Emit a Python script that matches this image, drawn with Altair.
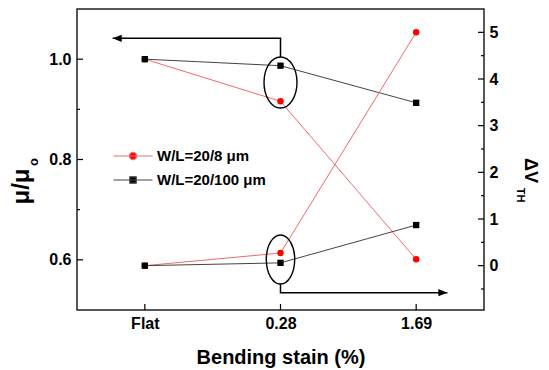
import json
import altair as alt
import pandas as pd

# ---------------- data ----------------
strain_labels = ["Flat", "0.28", "1.69"]
strain_pos = [0, 1, 2]
series_names = ["W/L=20/8 μm", "W/L=20/100 μm"]

mob_8 = [1.0, 0.916, 0.601]      # μ/μo, W/L = 20/8
mob_100 = [1.0, 0.987, 0.913]    # μ/μo, W/L = 20/100
dvth_8 = [0.0, 0.27, 5.0]        # ΔVTH, W/L = 20/8
dvth_100 = [0.0, 0.06, 0.87]     # ΔVTH, W/L = 20/100

mob_major = [0.6, 0.8, 1.0]
mob_minor = [0.7, 0.9]
dv_major = [0, 1, 2, 3, 4, 5]
dv_minor = [-0.5, 0.5, 1.5, 2.5, 3.5, 4.5]

# annotation positions (data units)
ell_top_x, ell_top_y = [1], [0.9535]
ell_bot_x, ell_bot_y = [1], [0.133]
arr_top_x = [1, 1, -0.237]
arr_top_y = [1.0043, 1.0416, 1.0416]
arr_bot_x = [1, 1, 2.23]
arr_bot_y = [-0.392, -0.579, -0.579]

# ---------------- layout / style ----------------
W, H = 407, 301
FONT = "Liberation Sans"
RED_LINE, RED = "#f06a6a", "#ff0000"
BLK_LINE, BLK = "#444444", "#000000"

xscale = alt.Scale(domain=[-0.5, 2.5], nice=False, zero=False)
yl_scale = alt.Scale(domain=[0.5, 1.1], nice=False, zero=False)
yr_scale = alt.Scale(domain=[-0.95, 5.5], nice=False, zero=False)

x_axis = alt.Axis(
    values=strain_pos,
    labelExpr=json.dumps(strain_labels) + "[datum.value]",
    labelPadding=5, labelBaseline="top",
    title="Bending stain (%)", titleFontSize=20,
    titleX=W / 2, titleY=53, titleAlign="center", titleBaseline="alphabetic",
)
yl_axis = alt.Axis(
    orient="left", values=mob_major, format=".1f", labelPadding=6,
    title="μ/μ", titleFontSize=24, titleAngle=270,
    titleX=-49, titleY=177, titleAlign="center", titleBaseline="alphabetic",
)
yr_axis = alt.Axis(
    orient="right", values=dv_major, format="d", labelPadding=5,
    title="ΔV", titleFontSize=18, titleAngle=90,
    titleX=40, titleY=161, titleAlign="center", titleBaseline="alphabetic",
)


def X(f):
    return alt.X(f, type="quantitative", scale=xscale, axis=x_axis)


def YL(f):
    return alt.Y(f, type="quantitative", scale=yl_scale, axis=yl_axis)


def YR(f):
    return alt.Y(f, type="quantitative", scale=yr_scale, axis=yr_axis)


df = pd.DataFrame({
    "x": strain_pos * 2,
    "series": [series_names[0]] * 3 + [series_names[1]] * 3,
    "mob": mob_8 + mob_100,
    "dv": dvth_8 + dvth_100,
    "i": [0, 1, 2, 0, 1, 2],
})
d8 = df[df.series == series_names[0]]
d100 = df[df.series == series_names[1]]

# ---------- left (mobility) group ----------
l_red_line = alt.Chart(d8).mark_line(color=RED_LINE, strokeWidth=1).encode(
    x=X("x"), y=YL("mob"), order="i")
l_blk_line = alt.Chart(d100).mark_line(color=BLK_LINE, strokeWidth=1).encode(
    x=X("x"), y=YL("mob"), order="i")
l_red_pts = alt.Chart(d8).mark_point(shape="circle", filled=True, size=42, color=RED, opacity=1).encode(
    x=X("x"), y=YL("mob"))
l_blk_pts = alt.Chart(d100).mark_point(shape="square", filled=True, size=40, color=BLK, opacity=1).encode(
    x=X("x"), y=YL("mob"))

ell_top = alt.Chart(pd.DataFrame({"x": ell_top_x, "mob": ell_top_y})).mark_point(
    shape="M 0 -1 A 0.647 1 0 0 1 0 1 A 0.647 1 0 0 1 0 -1 Z",
    size=51 ** 2, filled=False, stroke=BLK, strokeWidth=1.4, opacity=1,
).encode(x=X("x"), y=YL("mob"))
arr_top = alt.Chart(pd.DataFrame({"x": arr_top_x, "mob": arr_top_y, "i": [0, 1, 2]})).mark_line(
    color=BLK, strokeWidth=1.5).encode(x=X("x"), y=YL("mob"), order="i")
arr_top_head = alt.Chart(pd.DataFrame({"x": arr_top_x[-1:], "mob": arr_top_y[-1:]})).mark_point(
    shape="M 0 0 L 2 -0.8 L 2 0.8 Z", size=81, filled=True, color=BLK, opacity=1,
).encode(x=X("x"), y=YL("mob"))

legend_layer = alt.Chart(df).transform_filter("false").mark_point(opacity=1).encode(
    x=X("x"), y=YL("mob"),
    fill=alt.Fill("series:N", scale=alt.Scale(domain=series_names, range=[RED, BLK]),
                  legend=alt.Legend(title=None)),
    stroke=alt.Stroke("series:N", scale=alt.Scale(domain=series_names, range=[RED_LINE, BLK_LINE]),
                      legend=alt.Legend(title=None)),
    shape=alt.Shape("series:N", scale=alt.Scale(
        domain=series_names,
        range=[
            "M -2.44 0 L 2.44 0 M -0.45 0 A 0.45 0.45 0 1 0 0.45 0 A 0.45 0.45 0 1 0 -0.45 0 Z",
            "M -2.44 0 L 2.44 0 M -0.4 -0.4 L 0.4 -0.4 L 0.4 0.4 L -0.4 0.4 Z",
        ]), legend=alt.Legend(title=None)),
)

l_major = alt.Chart(pd.DataFrame({"mob": mob_major})).mark_rule(color=BLK, strokeWidth=1.2).encode(
    y=YL("mob"), x=alt.value(0), x2=alt.value(6))
l_minor = alt.Chart(pd.DataFrame({"mob": mob_minor})).mark_rule(color=BLK, strokeWidth=1.2).encode(
    y=YL("mob"), x=alt.value(0), x2=alt.value(3))
b_ticks = alt.Chart(pd.DataFrame({"x": strain_pos})).mark_rule(color=BLK, strokeWidth=1.2).encode(
    x=X("x"), y=alt.value(H), y2=alt.value(H - 6))
sub_o = alt.Chart(pd.DataFrame({"t": ["o"]})).mark_text(
    font=FONT, fontWeight="bold", fontSize=13, angle=270, align="center", baseline="middle", color=BLK
).encode(text="t:N", x=alt.value(-43), y=alt.value(153))

left = alt.layer(l_red_line, l_blk_line, l_major, l_minor, b_ticks, l_red_pts, l_blk_pts,
                 ell_top, arr_top, arr_top_head, legend_layer, sub_o)

# ---------- right (ΔVTH) group ----------
r_red_line = alt.Chart(d8).mark_line(color=RED_LINE, strokeWidth=1).encode(
    x=X("x"), y=YR("dv"), order="i")
r_blk_line = alt.Chart(d100).mark_line(color=BLK_LINE, strokeWidth=1).encode(
    x=X("x"), y=YR("dv"), order="i")
r_red_pts = alt.Chart(d8).mark_point(shape="circle", filled=True, size=42, color=RED, opacity=1).encode(
    x=X("x"), y=YR("dv"))
r_blk_pts = alt.Chart(d100).mark_point(shape="square", filled=True, size=40, color=BLK, opacity=1).encode(
    x=X("x"), y=YR("dv"))

ell_bot = alt.Chart(pd.DataFrame({"x": ell_bot_x, "dv": ell_bot_y})).mark_point(
    shape="M 0 -1 A 0.58 1 0 0 1 0 1 A 0.58 1 0 0 1 0 -1 Z",
    size=49 ** 2, filled=False, stroke=BLK, strokeWidth=1.4, opacity=1,
).encode(x=X("x"), y=YR("dv"))
arr_bot = alt.Chart(pd.DataFrame({"x": arr_bot_x, "dv": arr_bot_y, "i": [0, 1, 2]})).mark_line(
    color=BLK, strokeWidth=1.5).encode(x=X("x"), y=YR("dv"), order="i")
arr_bot_head = alt.Chart(pd.DataFrame({"x": arr_bot_x[-1:], "dv": arr_bot_y[-1:]})).mark_point(
    shape="M 0 0 L -2 -0.8 L -2 0.8 Z", size=81, filled=True, color=BLK, opacity=1,
).encode(x=X("x"), y=YR("dv"))

r_major = alt.Chart(pd.DataFrame({"dv": dv_major})).mark_rule(color=BLK, strokeWidth=1.2).encode(
    y=YR("dv"), x=alt.value(W - 6), x2=alt.value(W))
r_minor = alt.Chart(pd.DataFrame({"dv": dv_minor})).mark_rule(color=BLK, strokeWidth=1.2).encode(
    y=YR("dv"), x=alt.value(W - 3), x2=alt.value(W))
sub_th = alt.Chart(pd.DataFrame({"t": ["TH"]})).mark_text(
    font=FONT, fontWeight="bold", fontSize=11, angle=90, align="center", baseline="middle", color=BLK
).encode(text="t:N", x=alt.value(443), y=alt.value(186))

right = alt.layer(r_red_line, r_blk_line, r_major, r_minor, r_red_pts, r_blk_pts,
                  ell_bot, arr_bot, arr_bot_head, sub_th)

chart = alt.layer(left, right).resolve_scale(y="independent").properties(
    width=W, height=H,
    autosize=alt.AutoSizeParams(type="none"),
    padding={"left": 69, "top": 1, "right": 57, "bottom": 60},
).configure_view(
    stroke="#222222", strokeWidth=1.5,
).configure_axis(
    labelFont=FONT, labelFontWeight="bold", labelFontSize=16, labelColor=BLK,
    titleFont=FONT, titleFontWeight="bold", titleColor=BLK,
    domain=False, ticks=False, grid=False,
).configure_legend(
    orient="none", legendX=47, legendY=138, padding=0,
    symbolSize=256, symbolStrokeWidth=1.2, symbolOpacity=1,
    labelFont=FONT, labelFontWeight="bold", labelFontSize=15, labelColor=BLK,
    labelOffset=15, rowPadding=7, labelLimit=300,
)

chart.save("out.html", embed_options={"renderer": "svg", "actions": False})
